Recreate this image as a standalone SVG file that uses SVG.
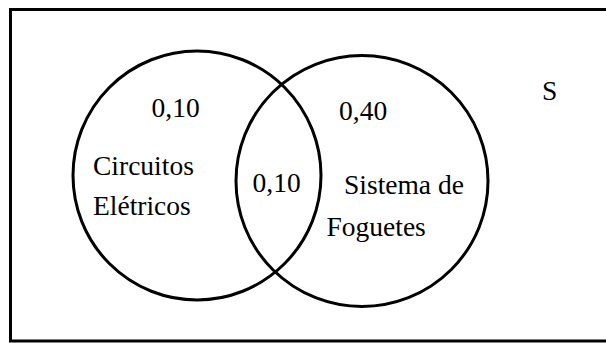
<svg xmlns="http://www.w3.org/2000/svg" width="606" height="343" viewBox="0 0 606 343">
<style>
.shape{fill:none;stroke:#000;stroke-width:3}
text{font-size:27.5px;fill:#000}
</style>
<rect x="0" y="0" width="606" height="343" fill="#fff"/>
<g font-family="'Liberation Serif', 'Times New Roman', 'DejaVu Serif', serif">
<g id="universe">
<rect class="shape" x="10.5" y="9.5" width="610" height="331.5"/>
<text x="542" y="100">S</text>
</g>
<g id="circuitos">
<ellipse class="shape" cx="197" cy="175.5" rx="124" ry="124.5"/>
<text x="151.5" y="117">0,10</text>
<text x="93" y="175">Circuitos</text>
<text x="93" y="215">Elétricos</text>
</g>
<g id="foguetes">
<ellipse class="shape" cx="362" cy="181" rx="126" ry="125.5"/>
<text x="339" y="119.5">0,40</text>
<text x="344" y="193.5">Sistema de</text>
<text x="326.5" y="236">Foguetes</text>
</g>
<g id="intersecao">
<text x="252.5" y="192">0,10</text>
</g>
<g id="connectors"/>
</g>
</svg>
